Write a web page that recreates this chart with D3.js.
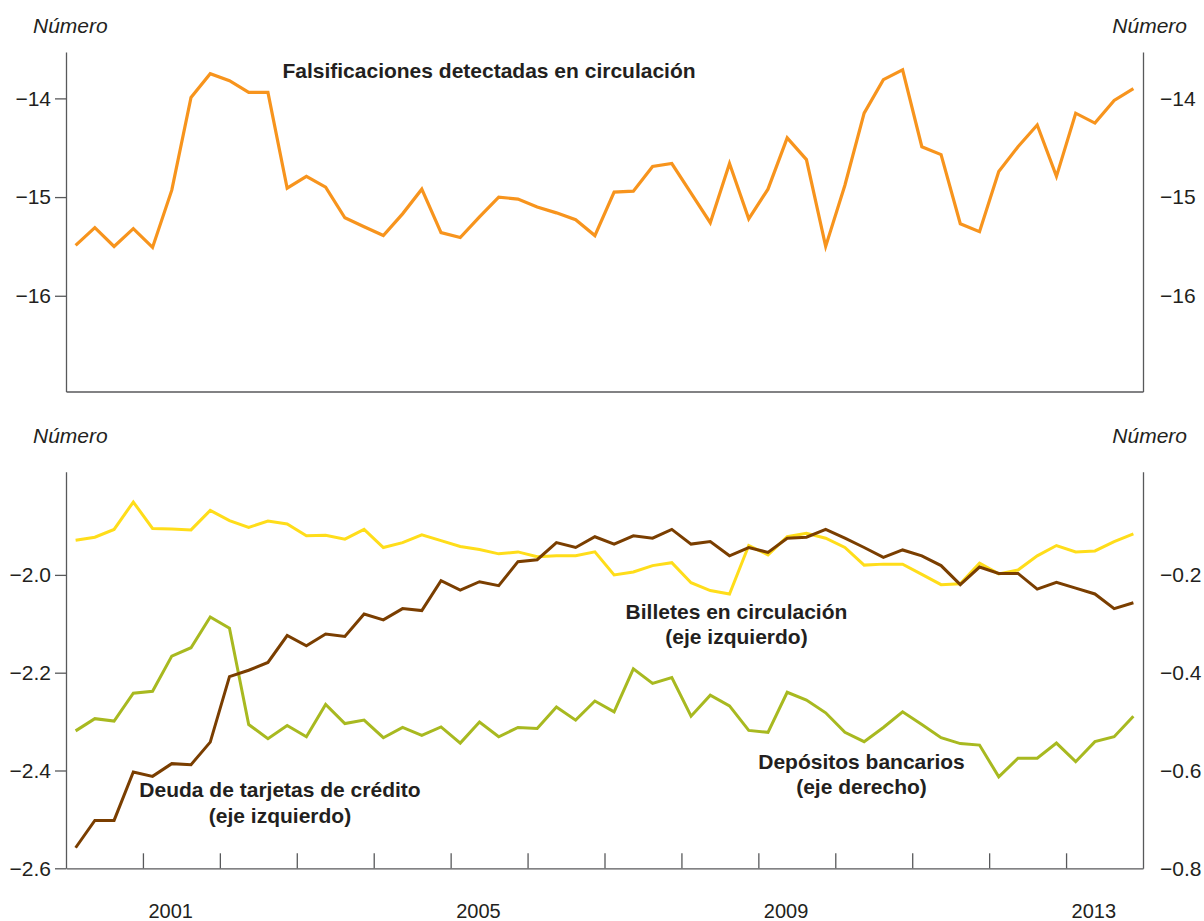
<!DOCTYPE html>
<html>
<head>
<meta charset="utf-8">
<script src="https://cdn.jsdelivr.net/npm/d3@7"></script>
<style>
  html, body { margin: 0; padding: 0; background: #fff; }
  svg { display: block; font-family: "Liberation Sans", Arial, Helvetica, sans-serif; }
  .axis path, .axis line { stroke: #58595b; stroke-width: 1.3; }
  .axis text { fill: #231f20; font-size: 21px; }
  .xaxis text { font-size: 20px; }
  .lbl { fill: #231f20; font-weight: bold; font-size: 21px; }
  .unit { fill: #231f20; font-style: italic; font-size: 21px; }
</style>
</head>
<body>
<svg id="chart" width="1204" height="921"></svg>
<script>
// ---------- Data (quarterly, 2000 T1 – 2013 T4) ----------
const startYear = 2000;
const nQuarters = 56;
const quarters = d3.range(nQuarters).map(i => startYear + Math.floor(i / 4) + "T" + (i % 4 + 1));

const falsificaciones = [-15.49,-15.31,-15.50,-15.32,-15.51,-14.93,-13.99,-13.75,-13.82,-13.94,
  -13.94,-14.91,-14.79,-14.90,-15.21,-15.30,-15.39,-15.17,-14.92,-15.36,
  -15.41,-15.20,-15.00,-15.02,-15.10,-15.16,-15.23,-15.39,-14.95,-14.94,
  -14.69,-14.66,-14.96,-15.26,-14.66,-15.22,-14.92,-14.40,-14.62,-15.50,
  -14.88,-14.15,-13.81,-13.71,-14.49,-14.57,-15.27,-15.35,-14.74,-14.49,
  -14.27,-14.79,-14.15,-14.25,-14.02,-13.90];

const deudaTarjetas = [-2.558,-2.502,-2.502,-2.403,-2.412,-2.386,-2.388,-2.342,-2.208,-2.195,
  -2.179,-2.124,-2.145,-2.121,-2.126,-2.080,-2.092,-2.069,-2.073,-2.012,
  -2.031,-2.014,-2.022,-1.973,-1.969,-1.934,-1.944,-1.922,-1.937,-1.920,
  -1.925,-1.907,-1.937,-1.932,-1.961,-1.944,-1.954,-1.925,-1.923,-1.907,
  -1.925,-1.944,-1.964,-1.949,-1.961,-1.981,-2.020,-1.984,-1.997,-1.997,
  -2.029,-2.015,-2.027,-2.039,-2.069,-2.057];

const billetes = [-1.929,-1.923,-1.907,-1.851,-1.905,-1.906,-1.908,-1.868,-1.889,-1.903,
  -1.890,-1.896,-1.920,-1.919,-1.927,-1.907,-1.944,-1.934,-1.918,-1.930,
  -1.942,-1.948,-1.957,-1.953,-1.963,-1.961,-1.961,-1.953,-2.000,-1.994,
  -1.981,-1.975,-2.016,-2.032,-2.039,-1.940,-1.959,-1.922,-1.915,-1.925,
  -1.944,-1.980,-1.978,-1.978,-1.999,-2.020,-2.018,-1.976,-1.998,-1.990,
  -1.961,-1.940,-1.953,-1.951,-1.932,-1.916];

const depositos = [-0.519,-0.494,-0.499,-0.442,-0.438,-0.366,-0.349,-0.286,-0.309,-0.506,
  -0.535,-0.508,-0.531,-0.465,-0.504,-0.497,-0.533,-0.512,-0.528,-0.511,
  -0.544,-0.501,-0.531,-0.512,-0.514,-0.470,-0.497,-0.458,-0.480,-0.392,
  -0.422,-0.410,-0.489,-0.446,-0.468,-0.518,-0.522,-0.440,-0.456,-0.482,
  -0.522,-0.541,-0.512,-0.480,-0.506,-0.533,-0.545,-0.548,-0.613,-0.575,
  -0.575,-0.544,-0.582,-0.541,-0.531,-0.489];

const topTicks = [-16, -15, -14];
const leftTicks = [-2.6, -2.4, -2.2, -2.0];
const rightTicks = [-0.8, -0.6, -0.4, -0.2];
const yearTicks = d3.range(2001, 2014);
const yearLabels = [2001, 2005, 2009, 2013];

// ---------- Layout ----------
const svg = d3.select("#chart");
const minus = s => s.replace("-", "\u2212");
const xLeft = 66, xRight = 1143;
const x = d3.scaleLinear().domain([2000, 2014]).range([xLeft, xRight]);
const xq = i => x(startYear + (i + 0.5) / 4);

// ---------- Top panel ----------
const yTop = d3.scaleLinear().domain([-16.97, -13.53]).range([391.5, 52]);
const gTop = svg.append("g");

gTop.append("g").attr("class", "axis")
  .attr("transform", `translate(${xLeft},0)`)
  .call(d3.axisLeft(yTop).tickValues(topTicks).tickSize(11).tickPadding(4).tickSizeOuter(0)
    .tickFormat(d => minus(d3.format("d")(d))));
gTop.append("g").attr("class", "axis")
  .attr("transform", `translate(${xRight},0)`)
  .call(d3.axisRight(yTop).tickValues(topTicks).tickSize(0).tickPadding(17).tickSizeOuter(0)
    .tickFormat(d => minus(d3.format("d")(d))));
gTop.append("g").attr("class", "axis")
  .attr("transform", `translate(0,${yTop.range()[0]})`)
  .call(d3.axisBottom(x).tickValues([]).tickSizeOuter(0));

gTop.append("path")
  .datum(falsificaciones)
  .attr("fill", "none").attr("stroke", "#F7941D").attr("stroke-width", 3.2)
  .attr("stroke-linejoin", "miter")
  .attr("d", d3.line().x((d, i) => xq(i)).y(d => yTop(d)));

gTop.append("text").attr("class", "unit").attr("x", 33).attr("y", 33).text("Número");
gTop.append("text").attr("class", "unit").attr("x", 1187).attr("y", 33).attr("text-anchor", "end").text("Número");
gTop.append("text").attr("class", "lbl").attr("x", 489).attr("y", 78).attr("text-anchor", "middle")
  .text("Falsificaciones detectadas en circulación");

// ---------- Bottom panel ----------
const yL = d3.scaleLinear().domain([-2.6, -1.789]).range([868.3, 471.7]);
const yR = d3.scaleLinear().domain([-0.8, 0.011]).range([868.3, 471.7]);
const gBot = svg.append("g");

gBot.append("g").attr("class", "axis")
  .attr("transform", `translate(${xLeft},0)`)
  .call(d3.axisLeft(yL).tickValues(leftTicks).tickSize(11).tickPadding(4).tickSizeOuter(0)
    .tickFormat(d => minus(d3.format(".1f")(d))));
gBot.append("g").attr("class", "axis")
  .attr("transform", `translate(${xRight},0)`)
  .call(d3.axisRight(yR).tickValues(rightTicks).tickSize(0).tickPadding(17).tickSizeOuter(0)
    .tickFormat(d => minus(d3.format(".1f")(d))));

const xAxis = gBot.append("g").attr("class", "axis xaxis")
  .attr("transform", `translate(0,${yL.range()[0]})`)
  .call(d3.axisBottom(x).tickValues(yearTicks).tickSize(-15).tickSizeOuter(0)
    .tickFormat(d => yearLabels.includes(d) ? String(d) : ""));
xAxis.selectAll(".tick text")
  .attr("text-anchor", "start").attr("x", 5).attr("y", 50).attr("dy", 0);

const lineL = d3.line().x((d, i) => xq(i)).y(d => yL(d));
const lineR = d3.line().x((d, i) => xq(i)).y(d => yR(d));

gBot.append("path").datum(billetes)
  .attr("fill", "none").attr("stroke", "#FFDD1A").attr("stroke-width", 3).attr("d", lineL);
gBot.append("path").datum(depositos)
  .attr("fill", "none").attr("stroke", "#A8B920").attr("stroke-width", 3).attr("d", lineR);
gBot.append("path").datum(deudaTarjetas)
  .attr("fill", "none").attr("stroke", "#7A3E00").attr("stroke-width", 3).attr("d", lineL);

gBot.append("text").attr("class", "unit").attr("x", 33).attr("y", 443).text("Número");
gBot.append("text").attr("class", "unit").attr("x", 1187).attr("y", 443).attr("text-anchor", "end").text("Número");

function label(cx, y1, lines) {
  const t = gBot.append("text").attr("class", "lbl").attr("text-anchor", "middle");
  lines.forEach((s, k) => t.append("tspan").attr("x", cx).attr("y", y1 + k * 25.5).text(s));
}
label(736.5, 618.5, ["Billetes en circulación", "(eje izquierdo)"]);
label(280, 797, ["Deuda de tarjetas de crédito", "(eje izquierdo)"]);
label(861.5, 768.5, ["Depósitos bancarios", "(eje derecho)"]);
</script>
</body>
</html>
